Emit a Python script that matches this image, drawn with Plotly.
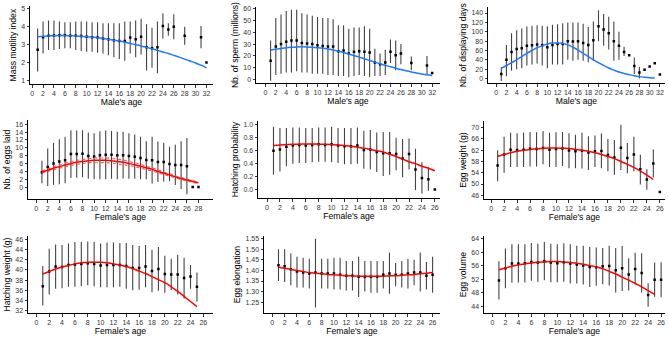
import plotly.graph_objects as go

# ---------------- DATA ----------------
# Panel 1: Mass motility index vs male's age
p1_age = [1,2,3,4,5,6,7,8,9,10,11,12,13,14,15,16,17,18,19,20,21,22,23,24,25,26,28,31,32]
p1_mean = [2.72,3.42,3.5,3.52,3.53,3.53,3.5,3.5,3.48,3.45,3.42,3.4,3.35,3.3,3.25,3.2,3.2,3.4,3.3,3.45,2.85,2.8,2.85,4.05,3.85,4.0,3.5,3.42,2.0]
p1_lo = [1.5,2.5,2.7,2.7,2.75,2.8,2.8,2.7,2.65,2.6,2.6,2.55,2.5,2.4,2.3,2.2,2.1,2.5,2.3,2.45,1.55,1.7,1.4,3.35,3.5,3.3,3.0,2.8,2.0]
p1_hi = [3.9,4.3,4.35,4.35,4.3,4.25,4.25,4.3,4.3,4.3,4.25,4.25,4.2,4.2,4.2,4.2,4.3,4.3,4.35,4.45,4.15,3.95,4.3,4.75,4.2,4.7,4.0,4.05,2.0]
p1_fit_age = list(range(1, 33))
p1_fit = [3.45,3.47,3.49,3.50,3.51,3.51,3.50,3.49,3.47,3.45,3.42,3.39,3.35,3.30,3.25,3.20,3.14,3.07,3.00,2.93,2.85,2.77,2.68,2.59,2.50,2.40,2.30,2.19,2.08,1.97,1.85,1.70]

# Panel 2: Nb. of sperm (millions) vs male's age
p2_age = [1,2,3,4,5,6,7,8,9,10,11,12,13,14,15,16,17,18,19,20,21,22,23,24,25,26,28,31,32]
p2_mean = [16,28,30,32,33,33,31,30.5,30,29,28.5,28,28,24,24.5,22,23.5,24,23.5,23,14.5,13,14.5,23.5,20.5,22,14,12,5.5]
p2_lo = [-1,4,5,6,6,7,6,6,5,5,5,4,4,3,3,2,3,4,3,2,3,3,4,14,8,13,8,4,5.5]
p2_hi = [33,52,55,58,59,59,56,55,54,53,52,52,51,46,46,43,44,44,45,43,26,22,25,34,33,30,19.5,20,5.5]
p2_fit_age = list(range(1, 33))
p2_fit = [25,25.7,26.3,26.9,27.3,27.6,27.7,27.6,27.4,27.0,26.5,25.8,25.0,24.0,22.9,21.7,20.4,19.0,17.6,16.2,14.8,13.4,12.1,10.8,9.6,8.5,7.5,6.5,5.6,4.8,4.1,3.5]

# Panel 3: Nb. of displaying days vs male's age
p3_age = list(range(1, 33))
p3_mean = [10,40,57,63,65,70,71,73,71,67,72,74,74,80,79,80,76,72,82,112,105,97,80,70,57,50,27,13,19,26,33,9]
p3_lo = [-5,5,17,20,22,28,30,32,28,22,30,30,30,40,38,40,38,35,38,80,70,62,38,40,48,50,10,0,19,26,33,9]
p3_hi = [25,72,97,103,107,111,113,114,113,112,115,116,118,120,120,120,117,110,122,146,138,132,122,100,68,50,45,25,19,26,33,9]
p3_fit_age = list(range(1, 32))
p3_fit = [22,28,34,40,47,54,60,66,70,74,76,76,75,72,67,61,54,47,40,34,28,22.5,18,14,11,8.4,6,4.2,3,2,1.4]

# Panel 4: Nb. of eggs laid vs female's age
p4_age = list(range(1, 29))
p4_mean = [3.8,5.1,6,6.5,6.8,8.4,8.4,8.5,7.9,7.8,8.1,8.2,8.2,8.1,8.1,7.9,7.7,7.4,6.9,6.8,6.4,6.4,5.9,5.6,5.6,5.3,0,0]
p4_lo = [1,0.3,0.6,0.7,1,2.3,2.4,2.5,2.1,2,2,2,2.1,2,2.2,2.1,2.1,2,2,0.9,1.3,1.4,1.5,0.5,-0.5,-1.8,0,0]
p4_hi = [6.7,9.8,11.3,12.2,12.8,14.5,14.4,14.5,13.9,13.7,14.2,14.4,14.3,14.1,14.1,13.7,13.4,12.8,11.7,12.8,11.6,11.3,10.3,10.8,11.7,12.5,0,0]
p4_fit_age = list(range(1, 29))
p4_fit = [3.9,4.3,4.8,5.2,5.6,6.0,6.3,6.5,6.7,6.8,6.8,6.8,6.7,6.5,6.3,6.0,5.7,5.3,4.9,4.5,4.0,3.5,3.1,2.6,2.2,1.8,1.4,1.1]
p4_fit_lo = [3.6,4.0,4.4,4.8,5.1,5.5,5.8,6.0,6.2,6.2,6.2,6.2,6.1,5.9,5.7,5.5,5.2,4.8,4.5,4.1,3.6,3.2,2.8,2.35,1.95,1.6,1.2,0.9]
p4_fit_hi = [4.2,4.6,5.2,5.6,6.1,6.5,6.8,7.0,7.2,7.4,7.4,7.4,7.3,7.1,6.9,6.5,6.2,5.8,5.3,4.9,4.4,3.8,3.4,2.85,2.45,2.0,1.6,1.3]

# Panel 5: Hatching probability vs female's age
p5_age = list(range(1, 27))
p5_mean = [0.6,0.62,0.66,0.68,0.69,0.68,0.69,0.7,0.69,0.7,0.68,0.67,0.67,0.68,0.61,0.62,0.58,0.56,0.56,0.55,0.48,0.55,0.31,0.18,0.16,0.0]
p5_lo = [0.23,0.28,0.36,0.4,0.41,0.41,0.42,0.43,0.43,0.42,0.41,0.39,0.39,0.4,0.32,0.31,0.27,0.21,0.23,0.3,0.19,0.31,-0.01,-0.06,-0.02,0.0]
p5_hi = [0.97,0.95,0.95,0.96,0.96,0.95,0.95,0.96,0.96,0.97,0.95,0.95,0.95,0.96,0.91,0.92,0.88,0.89,0.89,0.8,0.78,0.79,0.63,0.42,0.35,0.0]
p5_fit_age = list(range(1, 27))
p5_fit = [0.68,0.69,0.695,0.70,0.70,0.705,0.705,0.70,0.70,0.695,0.69,0.68,0.67,0.655,0.64,0.62,0.60,0.58,0.545,0.51,0.47,0.43,0.40,0.36,0.33,0.29]

# Panel 6: Egg weight (g) vs female's age
p6_age = list(range(1, 27))
p6_mean = [56.6,60.5,62.2,62.1,62.2,62.5,62.4,62.8,62.2,62.4,62.6,61.9,61.6,61.8,61.2,61.6,61.7,60.3,59.4,62.9,59.2,60.5,55.2,51.6,57.3,47.2]
p6_lo = [51,54,56,56,56,56.2,56.2,57,56,56,56.4,55.6,55.6,55.5,55,56,55.6,54.5,53.3,55,53.8,54.5,49.8,48,52.3,47.2]
p6_hi = [62,66.8,68.2,68,68.3,68.5,68.4,68.8,68.2,68.4,68.5,68,67.5,68.2,67,67.2,67.9,66,65.6,71,64.6,66.8,60.4,55.2,62.3,47.2]
p6_fit_age = list(range(1, 26))
p6_fit = [59.8,60.5,61.1,61.6,62.0,62.3,62.5,62.7,62.8,62.8,62.7,62.6,62.3,62.0,61.6,61.1,60.5,59.8,59.0,58.0,57.0,55.9,54.6,53.2,51.6]

# Panel 7: Hatching weight (g) vs female's age
p7_age = list(range(1, 26))
p7_mean = [36.8,39.7,40.7,40.6,41.0,41.1,41.2,41.3,41.2,40.9,41.0,41.0,41.0,40.8,40.4,40.4,40.7,39.8,40.2,39.2,39.1,39.1,38.4,38.7,36.7]
p7_lo = [33,35.2,36.3,36.4,36.7,36.7,36.8,37,36.8,36.6,36.6,36.6,36.7,36.3,36,36.1,36.6,35.6,35.9,35.5,36,35.2,34.4,36.3,33.8]
p7_hi = [40.8,44.2,45,44.9,45.2,45.5,45.5,45.6,45.5,45.2,45.4,45.4,45.3,45.3,44.9,44.7,44.9,44,44.5,42.8,42.2,43,42.4,41,39.5]
p7_fit_age = list(range(1, 26))
p7_fit = [39.2,39.7,40.2,40.6,40.9,41.2,41.4,41.5,41.5,41.5,41.4,41.2,41.0,40.7,40.3,39.8,39.3,38.7,38.1,37.5,36.7,35.8,34.8,33.8,32.8]

# Panel 8: Egg elongation vs female's age
p8_age = list(range(1, 27))
p8_mean = [1.425,1.42,1.405,1.395,1.39,1.385,1.39,1.385,1.385,1.385,1.38,1.375,1.375,1.37,1.37,1.37,1.37,1.38,1.385,1.38,1.38,1.385,1.39,1.39,1.375,1.38]
p8_lo = [1.35,1.345,1.33,1.32,1.32,1.315,1.225,1.315,1.315,1.31,1.31,1.305,1.305,1.275,1.3,1.295,1.295,1.315,1.29,1.325,1.32,1.315,1.33,1.3,1.31,1.295]
p8_hi = [1.5,1.5,1.48,1.465,1.46,1.455,1.55,1.455,1.455,1.46,1.46,1.445,1.445,1.465,1.445,1.445,1.445,1.445,1.485,1.435,1.445,1.455,1.45,1.485,1.44,1.465]
p8_fit_age = list(range(1, 27))
p8_fit = [1.415,1.41,1.405,1.40,1.395,1.39,1.387,1.384,1.381,1.379,1.377,1.375,1.374,1.373,1.372,1.372,1.372,1.373,1.374,1.375,1.377,1.379,1.381,1.384,1.387,1.39]

# Panel 9: Egg volume vs female's age
p9_age = list(range(1, 27))
p9_mean = [51.6,55.2,56.6,56.6,56.7,57.1,56.9,57.3,56.9,56.7,57.0,56.6,56.3,56.0,55.6,55.5,55.8,55.9,54.6,55.2,53.4,55.0,53.8,47.3,51.8,51.8]
p9_lo = [46,49.3,50.9,51,51,51.5,51.2,51.7,51.1,51.1,51.2,50.7,50.7,50.4,49.7,50,50.5,50.1,48,48.5,48.6,50.5,48,43.8,46.8,46.6]
p9_hi = [57.3,61.1,62.3,62.3,62.3,62.7,62.5,63,62.5,62.3,62.6,62.3,61.9,61.9,61.5,61.4,61.2,61.9,61.2,61.8,58.2,59.8,59.7,50.8,56.9,57]
p9_fit_age = list(range(1, 26))
p9_fit = [54.8,55.3,55.8,56.2,56.5,56.8,57.0,57.1,57.2,57.2,57.1,56.9,56.7,56.4,56.0,55.6,55.1,54.3,53.5,52.6,51.7,50.7,49.7,48.6,47.5]

y_titles = ["Mass motility index", "Nb. of sperm (millions)", "Nb. of displaying days",
            "Nb. of eggs laid", "Hatching probability", "Egg weight (g)",
            "Hatching weight (g)", "Egg elongation", "Egg volume"]
x_titles = ["Male's age"] * 3 + ["Female's age"] * 6

# ---------------- LAYOUT ----------------
W, H = 668, 338
FONT = "Liberation Sans, Arial, sans-serif"
BLUE = "#1f78ff"
RED = "#ff0000"

panels = [
    dict(age=p1_age, mean=p1_mean, lo=p1_lo, hi=p1_hi, fa=p1_fit_age, fit=p1_fit, col=BLUE,
         px=(30, 213), py=(4, 83), xr=(-0.4, 33.2), yr=(0.78, 5.17), xt=list(range(0, 33, 2)),
         yt=[1, 2, 3, 4, 5], fmt=None),
    dict(age=p2_age, mean=p2_mean, lo=p2_lo, hi=p2_hi, fa=p2_fit_age, fit=p2_fit, col=BLUE,
         px=(256, 440), py=(5, 82), xr=(-1.8, 33.5), yr=(-3.1, 61.4), xt=list(range(0, 33, 2)),
         yt=list(range(0, 61, 10)), fmt=None),
    dict(age=p3_age, mean=p3_mean, lo=p3_lo, hi=p3_hi, fa=p3_fit_age, fit=p3_fit, col=BLUE,
         px=(488, 665), py=(5, 82), xr=(-1.6, 33.0), yr=(-10, 153), xt=list(range(0, 33, 2)),
         yt=list(range(0, 141, 20)), fmt=None),
    dict(age=p4_age, mean=p4_mean, lo=p4_lo, hi=p4_hi, fa=p4_fit_age, fit=p4_fit, col=RED,
         px=(28, 213), py=(119, 199), xr=(-1.4, 30.5), yr=(-3.1, 17.1), xt=list(range(0, 29, 2)),
         yt=list(range(0, 17, 2)), fmt=None, ci=(p4_fit_lo, p4_fit_hi)),
    dict(age=p5_age, mean=p5_mean, lo=p5_lo, hi=p5_hi, fa=p5_fit_age, fit=p5_fit, col=RED,
         px=(258, 440), py=(120, 198), xr=(-1.4, 26.8), yr=(-0.134, 1.06), xt=list(range(0, 27, 2)),
         yt=[0, 0.2, 0.4, 0.6, 0.8, 1.0], fmt=".1f"),
    dict(age=p6_age, mean=p6_mean, lo=p6_lo, hi=p6_hi, fa=p6_fit_age, fit=p6_fit, col=RED,
         px=(484, 665), py=(120, 199), xr=(-1.1, 26.8), yr=(44.6, 72.4), xt=list(range(0, 27, 2)),
         yt=list(range(46, 71, 4)), fmt=None),
    dict(age=p7_age, mean=p7_mean, lo=p7_lo, hi=p7_hi, fa=p7_fit_age, fit=p7_fit, col=RED,
         px=(28, 213), py=(236, 314), xr=(-1.3, 27.5), yr=(31.5, 46.7), xt=list(range(0, 27, 2)),
         yt=list(range(32, 47, 2)), fmt=None),
    dict(age=p8_age, mean=p8_mean, lo=p8_lo, hi=p8_hi, fa=p8_fit_age, fit=p8_fit, col=RED,
         px=(264, 440), py=(236, 314), xr=(-1.35, 27.2), yr=(1.198, 1.563), xt=list(range(0, 27, 2)),
         yt=[1.25, 1.30, 1.35, 1.40, 1.45, 1.50, 1.55], fmt=".2f"),
    dict(age=p9_age, mean=p9_mean, lo=p9_lo, hi=p9_hi, fa=p9_fit_age, fit=p9_fit, col=RED,
         px=(484, 665), py=(236, 314), xr=(-1.3, 26.6), yr=(41.9, 64.8), xt=list(range(0, 27, 2)),
         yt=list(range(44, 65, 4)), fmt=None),
]

fig = go.Figure()
layout = {}
for i, p in enumerate(panels):
    n = "" if i == 0 else str(i + 1)
    xa, ya = "x" + n, "y" + n
    err_plus = [h - m for h, m in zip(p["hi"], p["mean"])]
    err_minus = [m - l for m, l in zip(p["mean"], p["lo"])]
    fig.add_trace(go.Scatter(
        x=p["age"], y=p["mean"], mode="markers", xaxis=xa, yaxis=ya,
        marker=dict(color="black", size=2.5, symbol="square"),
        error_y=dict(type="data", array=err_plus, arrayminus=err_minus,
                     color="#444444", thickness=1.1, width=0),
        showlegend=False, hoverinfo="skip"))
    if "ci" in p:
        for band in p["ci"]:
            fig.add_trace(go.Scatter(
                x=p["fa"], y=band, mode="lines", xaxis=xa, yaxis=ya,
                line=dict(color="#ff5a5a", width=1.2, dash="dot", shape="spline"),
                showlegend=False, hoverinfo="skip"))
    fig.add_trace(go.Scatter(
        x=p["fa"], y=p["fit"], mode="lines", xaxis=xa, yaxis=ya,
        line=dict(color=p["col"], width=1.5, shape="spline"),
        showlegend=False, hoverinfo="skip"))

    x0, x1 = p["px"]
    yt0, yt1 = p["py"]
    tick_common = dict(ticks="outside", ticklen=2.5, tickwidth=0.8, tickcolor="#333",
                       showline=True, linecolor="black", linewidth=0.9,
                       showgrid=False, zeroline=False, tickangle=0,
                       tickfont=dict(family=FONT, size=7, color="#333"))
    layout["xaxis" + n] = dict(
        domain=[x0 / W, x1 / W], anchor=ya, range=list(p["xr"]),
        tickmode="array", tickvals=p["xt"],
        title=dict(text=x_titles[i], font=dict(family=FONT, size=8.6, color="black"), standoff=2),
        **tick_common)
    layout["yaxis" + n] = dict(
        domain=[1 - yt1 / H, 1 - yt0 / H], anchor=xa, range=list(p["yr"]),
        tickmode="array", tickvals=p["yt"],
        title=dict(text=y_titles[i], font=dict(family=FONT, size=8.6, color="black"), standoff=3),
        **tick_common)
    if p["fmt"]:
        layout["yaxis" + n]["tickformat"] = p["fmt"]

fig.update_layout(
    width=W, height=H, margin=dict(l=0, r=0, t=0, b=0),
    plot_bgcolor="white", paper_bgcolor="white",
    font=dict(family=FONT, size=8, color="black"),
    **layout)

fig.write_html("out.html", config={"displayModeBar": False},
               post_script="document.body.style.margin='0';document.body.style.overflow='hidden';")
